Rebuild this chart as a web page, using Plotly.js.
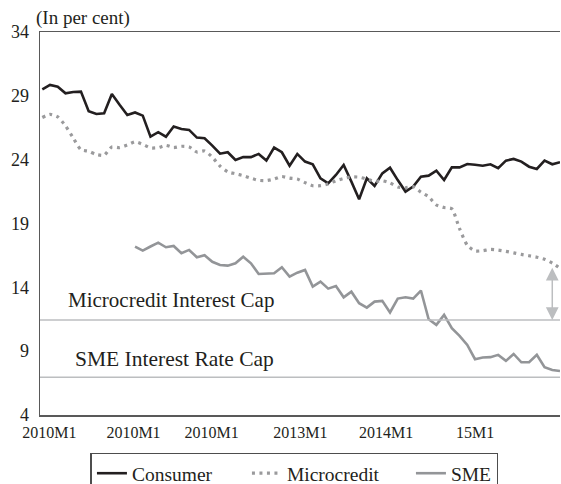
<!DOCTYPE html>
<html><head><meta charset="utf-8">
<script src="https://cdn.plot.ly/plotly-3.0.1.min.js"></script>
<style>html,body{margin:0;padding:0;background:#fff}</style>
</head><body><div id="chart" style="width:561px;height:484px"></div>
<script>
// Monthly rates, starting 2010M1 (68 months)
const consumer = [29.5,29.85,29.72,29.2,29.3,29.33,27.8,27.58,27.63,29.14,28.3,27.5,27.7,27.45,25.8,26.15,25.8,26.6,26.4,26.33,25.73,25.68,25.1,24.47,24.58,23.98,24.2,24.2,24.45,23.93,24.95,24.58,23.53,24.45,23.85,23.64,22.54,22.15,22.8,23.58,22.28,20.9,22.54,21.94,22.93,23.37,22.4,21.5,21.9,22.67,22.75,23.14,22.41,23.4,23.4,23.66,23.6,23.53,23.64,23.33,23.92,24.06,23.85,23.45,23.27,23.92,23.64,23.8];
const microcredit = [27.3,27.55,27.35,26.65,25.7,24.78,24.66,24.4,24.35,25.0,24.95,25.15,25.4,25.2,24.92,24.94,25.12,24.95,25.05,25.0,24.6,24.68,24.2,23.5,23.05,22.9,22.75,22.55,22.38,22.36,22.48,22.68,22.55,22.48,22.2,21.96,21.96,22.1,22.35,22.53,22.65,22.63,22.48,22.3,22.35,22.18,21.86,21.8,21.89,21.45,21.1,20.45,20.25,20.15,18.6,17.3,16.85,16.87,16.97,16.92,16.82,16.7,16.58,16.47,16.36,16.2,15.9,15.5];
const sme = [null,null,null,null,null,null,null,null,null,null,null,null,17.19,16.88,17.2,17.5,17.14,17.24,16.67,16.93,16.36,16.51,16.0,15.75,15.7,15.88,16.4,15.88,15.05,15.05,15.1,15.57,14.84,15.15,15.36,14.06,14.45,13.9,14.1,13.22,13.66,12.76,12.41,12.88,12.94,12.03,13.12,13.22,13.12,13.75,11.5,11.06,11.84,10.8,10.2,9.49,8.37,8.5,8.53,8.71,8.24,8.78,8.13,8.13,8.71,7.74,7.53,7.45];
const monthIndex = consumer.map((_, i) => i);

const tickPositions = [0.9, 11.8, 21.9, 33.4, 44.5, 56];
const tickLabels = ['2010M1','2010M1','2010M1','2013M1','2014M1','15M1'];
const yTicks = [4, 9, 14, 19, 24, 29, 34];

const microcreditCap = 11.45;
const smeCap = 6.95;
const capGapTop = 15.65;  // microcredit rate near the end of the period
const capGapX = 66;

const FONT = 'Liberation Serif, "Times New Roman", serif';

const traces = [
  {x: monthIndex, y: consumer, name: 'Consumer', type: 'scatter', mode: 'lines', legendwidth: 110,
   line: {color: '#231f20', width: 2.6}},
  {x: monthIndex, y: microcredit, name: 'Microcredit', type: 'scatter', mode: 'lines', legendwidth: 119,
   line: {color: '#9a9a9c', width: 3.2, dash: '3px,4.5px', shape: 'spline', smoothing: 0.6}},
  {x: monthIndex, y: sme, name: 'SME', type: 'scatter', mode: 'lines',
   line: {color: '#939598', width: 2.6}}
];

const layout = {
  width: 561, height: 484,
  margin: {l: 40, r: 1, t: 32, b: 69, autoexpand: false},
  paper_bgcolor: '#fff', plot_bgcolor: '#fff',
  font: {family: FONT, color: '#231f20', size: 17},
  showlegend: true,
  legend: {orientation: 'h', x: 0.097, xanchor: 'left', y: -0.098, yanchor: 'top',
    bordercolor: '#4d4d4d', borderwidth: 1.5, font: {size: 19.5, family: FONT}, traceorder: 'normal'},
  xaxis: {range: [-0.3, 67], showgrid: false, zeroline: false, showline: true, mirror: true,
    linecolor: '#595959', linewidth: 1.5, tickmode: 'array', tickvals: tickPositions, ticktext: tickLabels,
    ticks: '', tickfont: {size: 16, family: FONT}, ticklabelstandoff: 2},
  yaxis: {range: [4, 34], showgrid: false, zeroline: false, showline: true,
    linecolor: '#595959', linewidth: 1.5, tickmode: 'array', tickvals: yTicks,
    ticks: '', tickfont: {size: 18, family: FONT}, ticklabelstandoff: 6},
  shapes: [
    {type: 'line', xref: 'paper', x0: 0, x1: 1, yref: 'y', y0: microcreditCap, y1: microcreditCap,
     line: {color: '#bcbec0', width: 1.5}},
    {type: 'line', xref: 'paper', x0: 0, x1: 1, yref: 'y', y0: smeCap, y1: smeCap,
     line: {color: '#bcbec0', width: 1.5}}
  ],
  annotations: [
    {text: '(In per cent)', xref: 'paper', yref: 'paper', x: -0.012, y: 1, xanchor: 'left', yanchor: 'bottom',
     showarrow: false, font: {size: 19, family: FONT}, yshift: 1},
    {text: 'Microcredit Interest Cap', xref: 'paper', yref: 'y', x: 0.05, y: 13.0, xanchor: 'left', yanchor: 'middle',
     showarrow: false, font: {size: 21, family: FONT}},
    {text: 'SME Interest Rate Cap', xref: 'paper', yref: 'y', x: 0.064, y: 8.35, xanchor: 'left', yanchor: 'middle',
     showarrow: false, font: {size: 21.5, family: FONT}},
    {text: '', x: capGapX, y: microcreditCap, ax: capGapX, ay: capGapTop, xref: 'x', yref: 'y', axref: 'x', ayref: 'y',
     showarrow: true, arrowhead: 2, startarrowhead: 2, arrowside: 'end+start', arrowwidth: 1.5, arrowsize: 1.7,
     startarrowsize: 1.7, arrowcolor: '#bcbec0', standoff: 0, startstandoff: 0}
  ]
};

Plotly.newPlot('chart', traces, layout, {staticPlot: true, displayModeBar: false});
</script>
</body></html>
